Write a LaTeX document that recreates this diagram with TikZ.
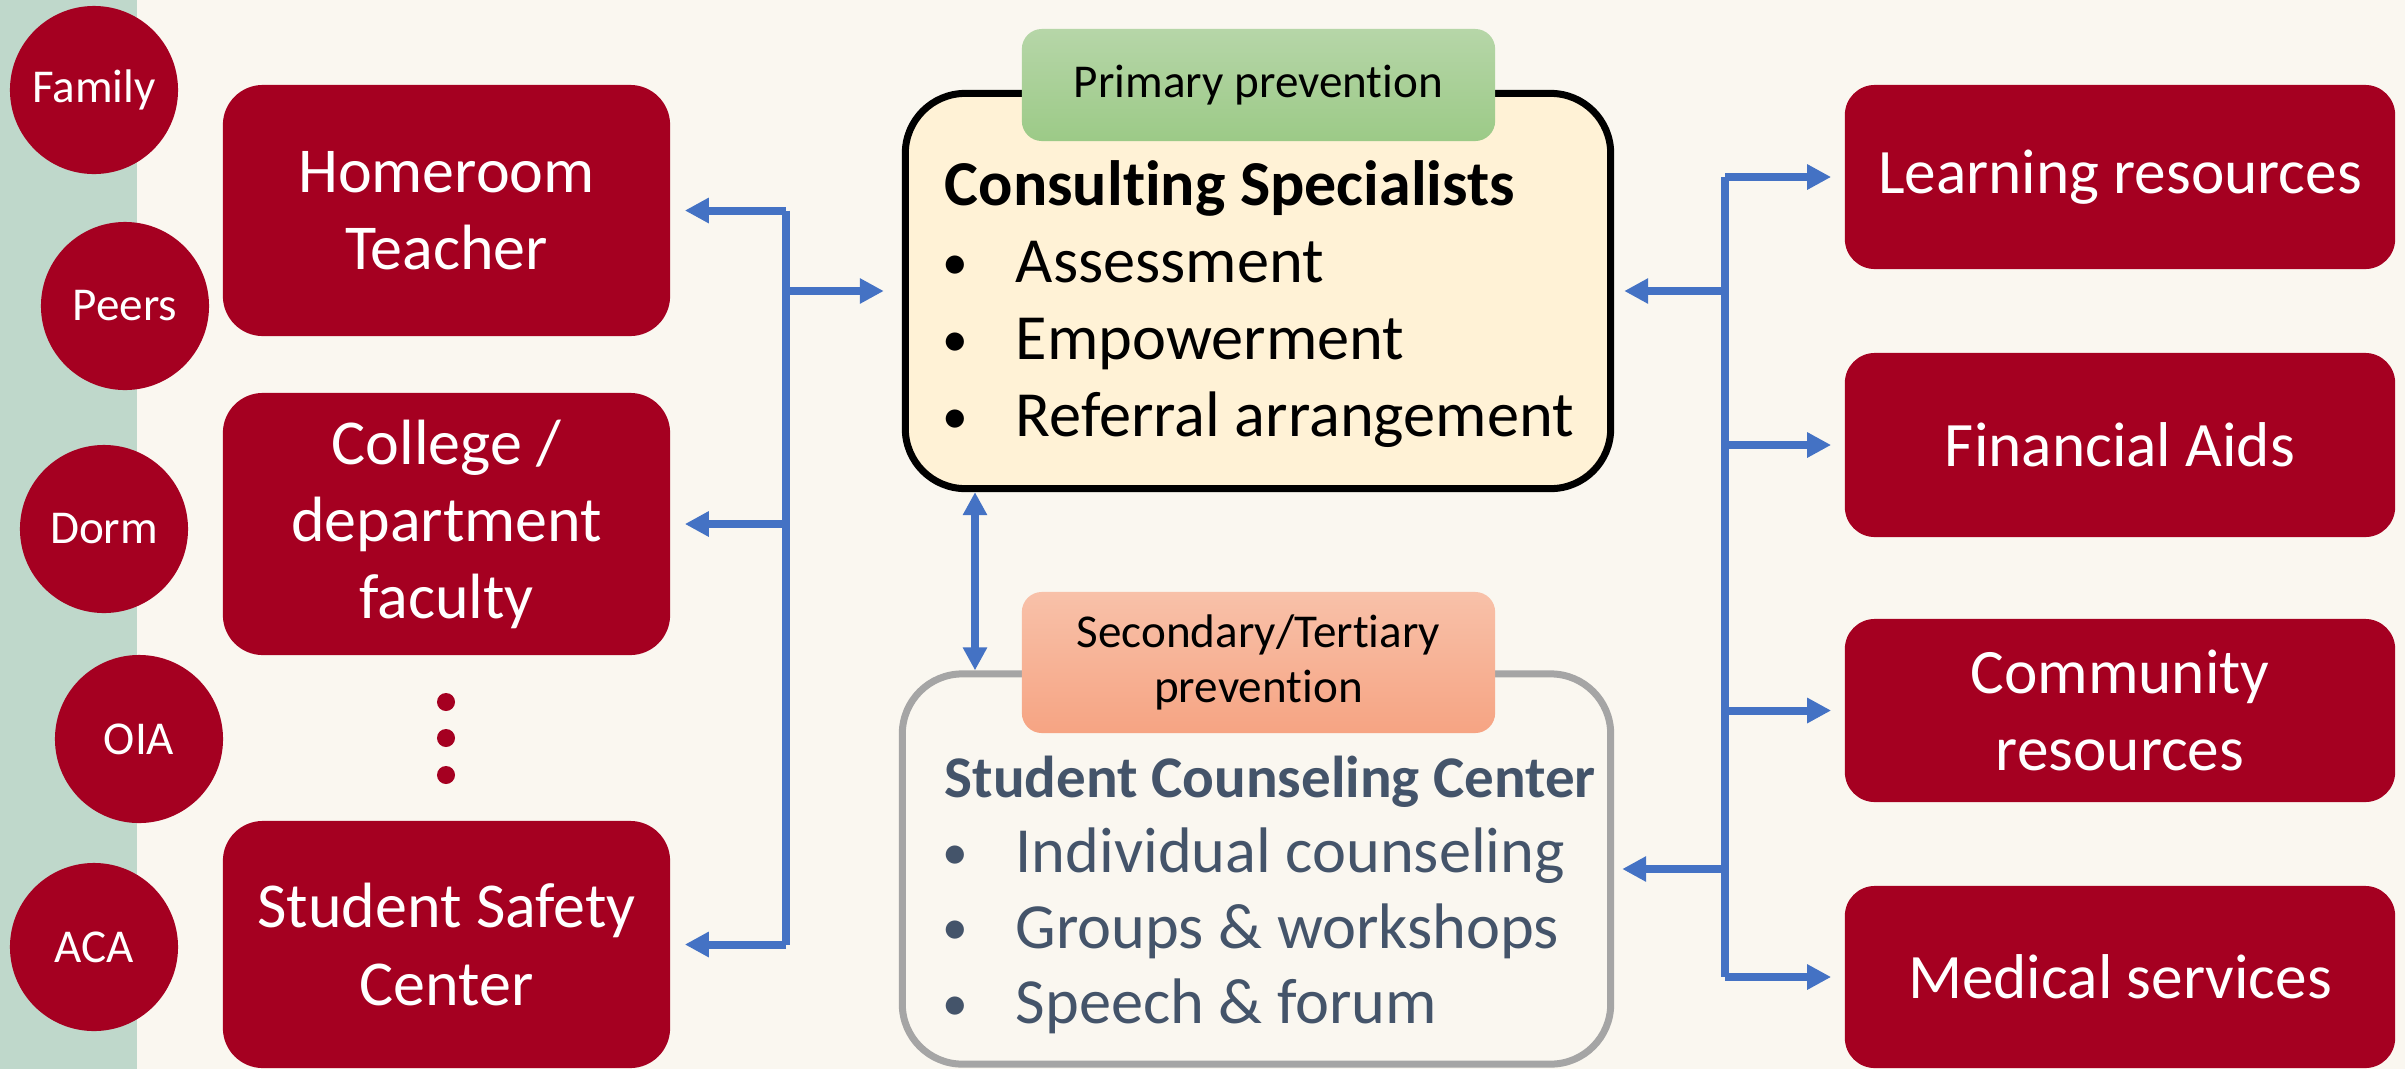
\documentclass[tikz,border=0pt]{standalone}
\usepackage{fontspec}
\setmainfont{Carlito}[Ligatures=NoCommon]
\usepackage{tikz}
\usetikzlibrary{arrows.meta}

\definecolor{darkred}{HTML}{A50021}
\definecolor{linkblue}{HTML}{4472C4}
\definecolor{cream}{HTML}{FAF7F0}
\definecolor{sage}{HTML}{BFD8CB}
\definecolor{lightgold}{HTML}{FFF2D6}
\definecolor{slate}{HTML}{44546A}
\definecolor{boxgray}{HTML}{A5A5A5}
\definecolor{greentop}{HTML}{B6D6A8}
\definecolor{greenbot}{HTML}{9CCA87}
\definecolor{salmontop}{HTML}{F8C1A9}
\definecolor{salmonbot}{HTML}{F6A483}

\newcommand{\dotmark}{\makebox[0.73cm][l]{\raisebox{0.05em}{\scalebox{0.8}{•}}}}

\begin{document}
\begin{tikzpicture}[x=0.01cm, y=-0.01cm,
    redbox/.style={fill=darkred, rounded corners=0.4cm, text=white, align=center,
        minimum width=4.47cm, font=\fontsize{18.2}{21.9}\selectfont},
    resbox/.style={fill=darkred, rounded corners=0.3cm, text=white, align=center,
        minimum width=5.5cm, minimum height=1.84cm, font=\fontsize{18}{21.9}\selectfont},
    ring/.style={circle, fill=darkred, text=white, minimum size=1.68cm, inner sep=0pt,
        font=\fontsize{13.4}{16}\selectfont},
    tab/.style={rounded corners=0.2cm, minimum width=4.73cm, align=center,
        font=\fontsize{13.4}{15.6}\selectfont},
    item/.style={anchor=base west, inner sep=0pt, font=\fontsize{18.3}{21.9}\selectfont},
    head/.style={anchor=base west, inner sep=0pt, font=\fontsize{18.2}{20}\selectfont\bfseries},
    link/.style={linkblue, line width=0.08cm},
    arr/.style={link, -{Triangle[length=0.24cm,width=0.24cm]}},
    dblarr/.style={link, {Triangle[length=0.23cm,width=0.23cm]}-{Triangle[length=0.23cm,width=0.23cm]}}]
    % background
    \fill[cream] (0,0) rectangle (2405,1069);
    \fill[sage] (0,0) rectangle (137,1069);
    \useasboundingbox (0,0) rectangle (2405,1069);

    % circles on the left
    \node[ring] (family) at (94,90) {Family};
    \node[ring] (peers) at (125,306) {Peers};
    \node[ring] (dorm) at (104,529) {Dorm};
    \node[ring] (oia) at (139,739) {OIA};
    \node[ring] (aca) at (94,947) {ACA};

    % left boxes
    \node[redbox, minimum height=2.51cm] (home) at (446.5,210.5) {Homeroom\\Teacher};
    \node[redbox, minimum height=2.62cm] (coll) at (446.5,524) {College /\\department\\faculty};
    \node[redbox, minimum height=2.47cm] (safe) at (446.5,944.5) {Student Safety\\Center};
    \foreach \y [count=\i] in {702,738,775}
        \fill[darkred] (446,\y) circle (0.09cm);

    % consulting specialists
    \node[draw=black, line width=0.07cm, fill=lightgold, rounded corners=0.6cm,
        minimum width=7.05cm, minimum height=3.95cm] (cons) at (1258,291) {};
    \node[tab, top color=greentop, bottom color=greenbot, minimum height=1.12cm] (prim) at (1258.5,85) {Primary prevention};
    \node[head] (chead) at (944,205) {Consulting Specialists};
    \foreach \t [count=\i] in {Assessment, Empowerment, Referral arrangement}
        \node[item] (citem\i) at (942,{205+77.3*\i}) {\dotmark\t};

    % student counseling center
    \node[draw=boxgray, line width=0.07cm, fill=cream, rounded corners=0.6cm,
        minimum width=7.08cm, minimum height=3.9cm] (scc) at (1256.5,869) {};
    \node[tab, top color=salmontop, bottom color=salmonbot, minimum height=1.41cm] (sec) at (1258.5,662.5) {Secondary/Tertiary\\prevention};
    \node[head, text=slate, font=\fontsize{16.8}{20}\selectfont\bfseries] (shead) at (944,797) {Student Counseling Center};
    \foreach \t [count=\i] in {Individual counseling, Groups \& workshops, Speech \& forum}
        \node[item, text=slate] (sitem\i) at (942,{797+75.5*\i}) {\dotmark\t};

    % right boxes
    \node[resbox] (learn) at (2120,177) {Learning resources};
    \node[resbox] (fin) at (2120,445) {Financial Aids};
    \node[resbox, minimum height=1.83cm] (comm) at (2120,710.5) {Community\\resources};
    \node[resbox, minimum height=1.82cm] (med) at (2120,977) {Medical services};

    % left connectors
    \coordinate (lhub) at (786,0);
    \draw[link] (lhub |- home.east) -- (lhub |- safe.east);
    \foreach \n in {home,coll,safe}
        \draw[arr, shorten >=0.14cm] (lhub |- \n.east) -- (\n.east);
    \draw[arr, shorten >=0.18cm] (lhub |- cons.west) -- (cons.west);

    % right connectors
    \coordinate (rhub) at (1725,0);
    \draw[link] (rhub |- learn.west) -- (rhub |- med.west);
    \foreach \n in {learn,fin,comm,med}
        \draw[arr, shorten >=0.13cm] (rhub |- \n.west) -- (\n.west);
    \draw[arr, shorten >=0.1cm] (rhub |- cons.east) -- (cons.east);
    \draw[arr, shorten >=0.08cm] (rhub |- scc.east) -- (scc.east);

    % between the two centers
    \coordinate (vx) at (975,0);
    \draw[dblarr] (vx |- cons.south) -- (vx |- scc.north);
\end{tikzpicture}
\end{document}
